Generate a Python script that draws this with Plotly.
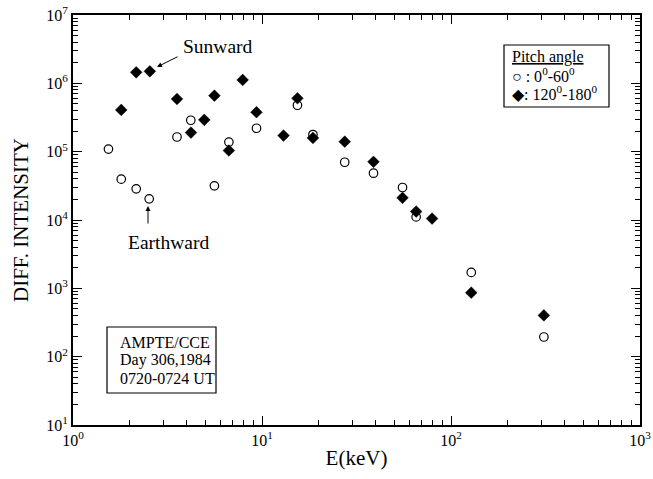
import plotly.graph_objects as go

# ---- data ----
circ_E = [1.54, 1.80, 2.16, 2.53, 3.55, 4.20, 5.60, 6.68, 9.35, 15.4, 18.6, 27.4, 38.9, 55.4, 65.4, 128, 310]
circ_I = [1.09e5, 3.96e4, 2.86e4, 2.04e4, 1.64e5, 2.88e5, 3.16e4, 1.38e5, 2.20e5, 4.78e5, 1.78e5, 7.0e4, 4.84e4, 2.99e4, 1.11e4, 1.71e3, 194]

diam_E = [1.80, 2.16, 2.55, 3.55, 4.21, 4.95, 5.60, 6.68, 7.90, 9.35, 13.0, 15.4, 18.6, 27.4, 38.9, 55.4, 65.4, 79.4, 128, 310]
diam_I = [4.08e5, 1.45e6, 1.50e6, 5.9e5, 1.9e5, 2.92e5, 6.6e5, 1.04e5, 1.12e6, 3.78e5, 1.72e5, 6.05e5, 1.59e5, 1.40e5, 7.1e4, 2.11e4, 1.33e4, 1.05e4, 863, 402]

x_ticks = [1, 10, 100, 1000]
x_ticktext = ["10<sup>0</sup>", "10<sup>1</sup>", "10<sup>2</sup>", "10<sup>3</sup>"]
y_ticks = [1e1, 1e2, 1e3, 1e4, 1e5, 1e6, 1e7]
y_ticktext = ["10<sup>1</sup>", "10<sup>2</sup>", "10<sup>3</sup>", "10<sup>4</sup>",
              "10<sup>5</sup>", "10<sup>6</sup>", "10<sup>7</sup>"]

FONT = "Liberation Serif"
W, H = 653, 479
L, R, T, B = 73, 13, 15, 54
PW, PH = W - L - R, H - T - B


def px(x):
    return (x - L) / PW


def py(y):
    return (H - B - y) / PH


def minor_vals(lo, hi):
    out = []
    for d in range(lo, hi):
        for m in range(2, 10):
            out.append(m * 10 ** d)
    return out


fig = go.Figure()
fig.add_trace(go.Scatter(
    x=circ_E, y=circ_I, mode="markers", name="0-60",
    marker=dict(symbol="circle-open", size=8.5, color="black", line=dict(width=1.2, color="black")),
    showlegend=False))
fig.add_trace(go.Scatter(
    x=diam_E, y=diam_I, mode="markers", name="120-180",
    marker=dict(symbol="diamond", size=9, color="black", line=dict(width=0.5, color="black")),
    showlegend=False))

axis_common = dict(
    showgrid=False, zeroline=False, showline=True, linecolor="black", linewidth=2,
    mirror="allticks", ticks="inside", ticklen=9, tickwidth=1.3, tickcolor="black",
    tickfont=dict(family=FONT, size=16, color="black"), automargin=False,
)

fig.update_xaxes(
    type="log", range=[0, 3], tickmode="array", tickvals=x_ticks, ticktext=x_ticktext,
    minor=dict(tickmode="array", tickvals=minor_vals(0, 3), ticks="inside", ticklen=5,
               tickwidth=1, tickcolor="black", showgrid=False),
    title=dict(text="E(keV)", font=dict(family=FONT, size=21, color="black"), standoff=2),
    **axis_common)
fig.update_yaxes(
    type="log", range=[1, 7], tickmode="array", tickvals=y_ticks, ticktext=y_ticktext,
    minor=dict(tickmode="array", tickvals=minor_vals(1, 7), ticks="inside", ticklen=5,
               tickwidth=1, tickcolor="black", showgrid=False),
    title=dict(text="DIFF. INTENSITY", font=dict(family=FONT, size=21, color="black"), standoff=12),
    **axis_common)


def text_ann(x, y, t, size, xanchor="center"):
    return dict(x=px(x), y=py(y), xref="paper", yref="paper", text=t, xanchor=xanchor,
                yanchor="middle", showarrow=False, font=dict(family=FONT, size=size, color="black"))


def arrow_ann(hx, hy, tx, ty):
    return dict(x=px(hx), y=py(hy), xref="paper", yref="paper", text="",
                showarrow=True, ax=tx - hx, ay=ty - hy, arrowhead=2, arrowsize=1,
                arrowwidth=1, arrowcolor="black")


ann = []
# Sunward / Earthward labels and arrows
ann.append(text_ann(218, 47, "Sunward", 19.5))
ann.append(arrow_ann(157, 67, 179, 56))
ann.append(text_ann(168, 242, "Earthward", 19.5))
ann.append(arrow_ann(148, 206, 148, 225))

# info box
info_lines = ["AMPTE/CCE", "Day 306,1984", "0720-0724 UT"]
for i, t in enumerate(info_lines):
    ann.append(text_ann(118, 342 + 18 * i, t, 16, xanchor="left"))

# legend box
leg_lines = ["<u>Pitch angle</u>",
             '<span style="font-size:16px">○</span> : 0<sup>0</sup>-60<sup>0</sup>',
             '<span style="font-size:16px">◆</span>: 120<sup>0</sup>-180<sup>0</sup>']
for i, t in enumerate(leg_lines):
    ann.append(text_ann(510, 57 + 18 * i, t, 16, xanchor="left"))

shapes = [
    dict(type="rect", xref="paper", yref="paper", x0=px(107), x1=px(216), y0=py(393), y1=py(327),
         line=dict(color="black", width=1.2)),
    dict(type="rect", xref="paper", yref="paper", x0=px(504), x1=px(609), y0=py(107), y1=py(45),
         line=dict(color="black", width=1.2)),
]

fig.update_layout(
    width=W, height=H, margin=dict(l=L, r=R, t=T, b=B),
    paper_bgcolor="white", plot_bgcolor="white",
    font=dict(family=FONT, color="black"),
    annotations=ann, shapes=shapes, showlegend=False,
)

fig.write_html("out.html")
